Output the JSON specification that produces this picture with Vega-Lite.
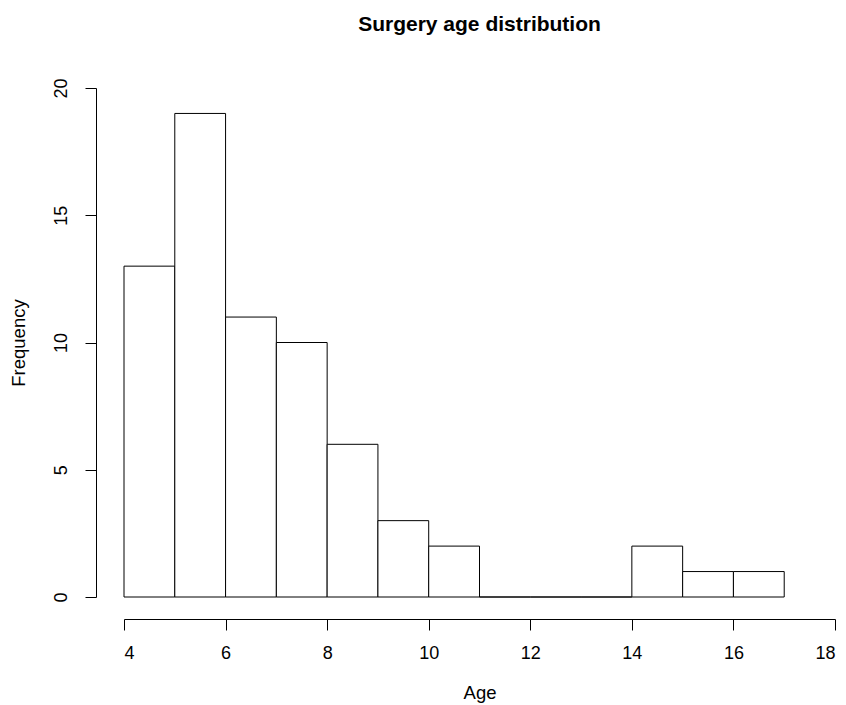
{
  "$schema": "https://vega.github.io/schema/vega-lite/v6.json",
  "autosize": "none",
  "width": 711,
  "height": 509,
  "padding": {"left": 124, "top": 88, "right": 11, "bottom": 108},
  "background": "white",
  "config": {
    "view": {"stroke": null},
    "font": "Liberation Sans"
  },
  "title": {
    "text": "Surgery age distribution",
    "font": "Liberation Sans",
    "fontSize": 21,
    "fontWeight": "bold",
    "color": "black",
    "anchor": "middle",
    "frame": "group",
    "offset": 43
  },
  "data": {
    "values": [
      {"start": 4, "end": 5, "count": 13},
      {"start": 5, "end": 6, "count": 19},
      {"start": 6, "end": 7, "count": 11},
      {"start": 7, "end": 8, "count": 10},
      {"start": 8, "end": 9, "count": 6},
      {"start": 9, "end": 10, "count": 3},
      {"start": 10, "end": 11, "count": 2},
      {"start": 11, "end": 12, "count": 0},
      {"start": 12, "end": 13, "count": 0},
      {"start": 13, "end": 14, "count": 0},
      {"start": 14, "end": 15, "count": 2},
      {"start": 15, "end": 16, "count": 1},
      {"start": 16, "end": 17, "count": 1}
    ]
  },
  "mark": {"type": "rect", "fill": "white", "stroke": "black", "strokeWidth": 1},
  "encoding": {
    "x": {
      "field": "start",
      "type": "quantitative",
      "scale": {"domain": [4, 18], "nice": false, "zero": false},
      "axis": {
        "title": "Age",
        "values": [4, 6, 8, 10, 12, 14, 16, 18],
        "grid": false,
        "offset": 22,
        "domainColor": "black",
        "tickColor": "black",
        "tickSize": 11,
        "labelFontSize": 18,
        "labelColor": "black",
        "labelPadding": 14,
        "titleFontSize": 18.5,
        "titleFontWeight": "normal",
        "titleColor": "black",
        "titlePadding": 21
      }
    },
    "x2": {"field": "end"},
    "y": {
      "field": "count",
      "type": "quantitative",
      "scale": {"domain": [0, 20], "nice": false},
      "axis": {
        "title": "Frequency",
        "values": [0, 5, 10, 15, 20],
        "grid": false,
        "offset": 28,
        "domainColor": "black",
        "tickColor": "black",
        "tickSize": 11,
        "labelAngle": -90,
        "labelAlign": "center",
        "labelBaseline": "bottom",
        "labelFontSize": 18,
        "labelColor": "black",
        "labelPadding": 15,
        "titleFontSize": 18.5,
        "titleFontWeight": "normal",
        "titleColor": "black",
        "titlePadding": 24
      }
    },
    "y2": {"datum": 0}
  }
}
